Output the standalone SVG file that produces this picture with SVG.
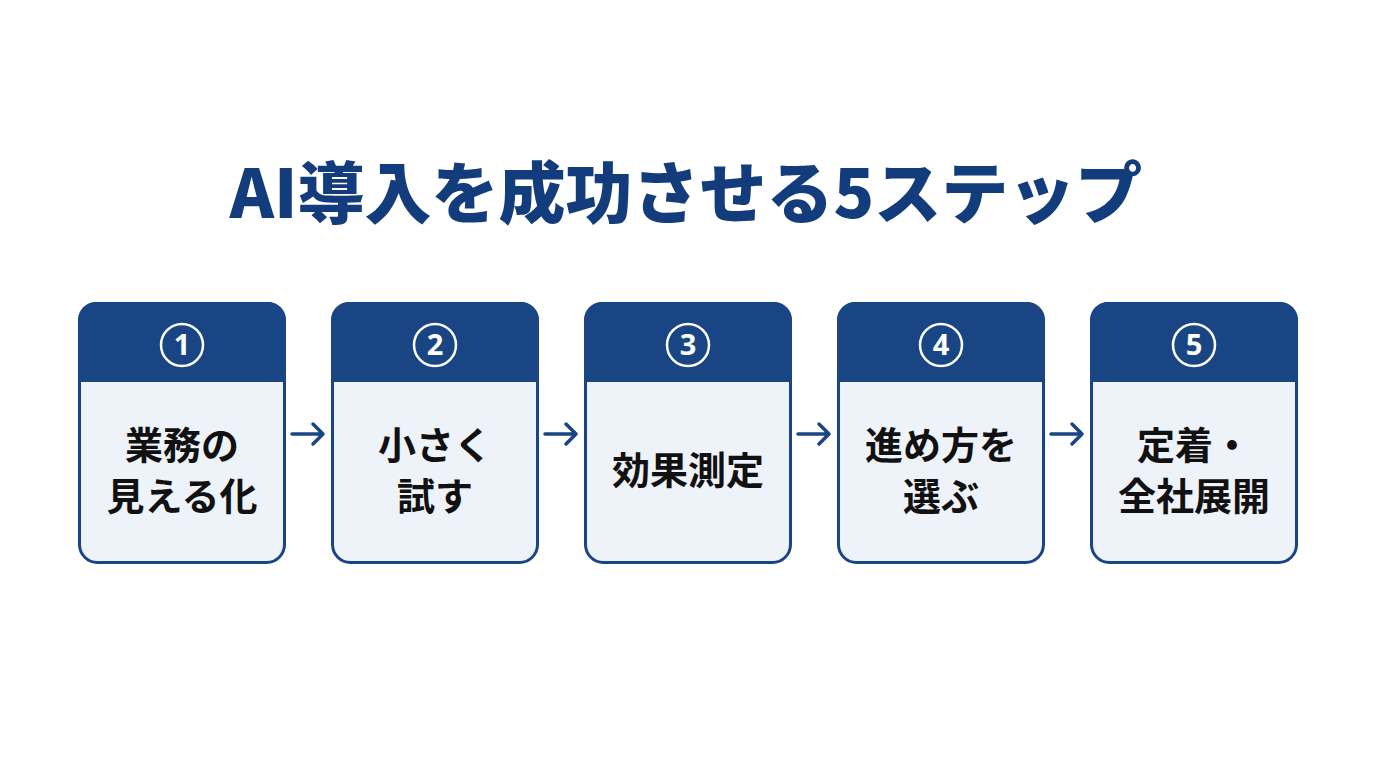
<svg xmlns="http://www.w3.org/2000/svg" width="1376" height="768" viewBox="0 0 1376 768">
<defs>
<style>
.title{font-family:"Noto Sans CJK JP","Noto Sans",sans-serif;font-weight:900;font-size:67px;fill:#123c7c}
.body{fill:#eef2f9;stroke:#1a4585;stroke-width:3}
.head{fill:#1a4585}
.num{font-family:"Noto Sans","Liberation Sans",sans-serif;font-weight:700;font-size:29px;fill:#fff}
.circ{fill:none;stroke:#fff;stroke-width:2.5}
.lbl{font-family:"Noto Sans CJK JP",sans-serif;font-weight:700;font-size:38px;fill:#111}
.arr{stroke:#1a4585;stroke-width:3.5;fill:none;stroke-linecap:round;stroke-linejoin:round}
</style>
</defs>
<rect width="1376" height="768" fill="#fff"/>
<text class="title" x="686" y="218" text-anchor="middle">AI導入を成功させる5ステップ</text>
<g id="step1" transform="translate(78,302)">
<rect class="body" x="1.5" y="1.5" width="205" height="259" rx="18"/>
<path class="head" d="M0,18 a18,18 0 0 1 18,-18 h172 a18,18 0 0 1 18,18 v62 h-208z"/>
<circle class="circ" cx="104" cy="43" r="21"/><text class="num" x="104" y="53" text-anchor="middle">1</text>
<text class="lbl" x="104" y="157" text-anchor="middle">業務の</text>
<text class="lbl" x="104" y="208" text-anchor="middle">見える化</text>
</g>
<g id="step2" transform="translate(331,302)">
<rect class="body" x="1.5" y="1.5" width="205" height="259" rx="18"/>
<path class="head" d="M0,18 a18,18 0 0 1 18,-18 h172 a18,18 0 0 1 18,18 v62 h-208z"/>
<circle class="circ" cx="104" cy="43" r="21"/><text class="num" x="104" y="53" text-anchor="middle">2</text>
<text class="lbl" x="104" y="157" text-anchor="middle">小さく</text>
<text class="lbl" x="104" y="208" text-anchor="middle">試す</text>
</g>
<g id="step3" transform="translate(584,302)">
<rect class="body" x="1.5" y="1.5" width="205" height="259" rx="18"/>
<path class="head" d="M0,18 a18,18 0 0 1 18,-18 h172 a18,18 0 0 1 18,18 v62 h-208z"/>
<circle class="circ" cx="104" cy="43" r="21"/><text class="num" x="104" y="53" text-anchor="middle">3</text>
<text class="lbl" x="104" y="182" text-anchor="middle">効果測定</text>
</g>
<g id="step4" transform="translate(837,302)">
<rect class="body" x="1.5" y="1.5" width="205" height="259" rx="18"/>
<path class="head" d="M0,18 a18,18 0 0 1 18,-18 h172 a18,18 0 0 1 18,18 v62 h-208z"/>
<circle class="circ" cx="104" cy="43" r="21"/><text class="num" x="104" y="53" text-anchor="middle">4</text>
<text class="lbl" x="104" y="157" text-anchor="middle">進め方を</text>
<text class="lbl" x="104" y="208" text-anchor="middle">選ぶ</text>
</g>
<g id="step5" transform="translate(1090,302)">
<rect class="body" x="1.5" y="1.5" width="205" height="259" rx="18"/>
<path class="head" d="M0,18 a18,18 0 0 1 18,-18 h172 a18,18 0 0 1 18,18 v62 h-208z"/>
<circle class="circ" cx="104" cy="43" r="21"/><text class="num" x="104" y="53" text-anchor="middle">5</text>
<text class="lbl" x="104" y="157" text-anchor="middle">定着・</text>
<text class="lbl" x="104" y="208" text-anchor="middle">全社展開</text>
</g>
<g id="connectors">
<path class="arr" d="M292,434 H323 M313,424 L323,434 L313,444"/>
<path class="arr" d="M545,434 H576 M566,424 L576,434 L566,444"/>
<path class="arr" d="M798,434 H829 M819,424 L829,434 L819,444"/>
<path class="arr" d="M1051,434 H1082 M1072,424 L1082,434 L1072,444"/>
</g>
</svg>
